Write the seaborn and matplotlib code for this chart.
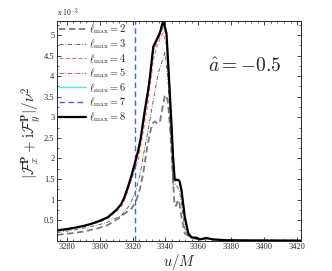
import numpy as np
import pandas as pd
import matplotlib
matplotlib.use('Agg')
import matplotlib.pyplot as plt
from matplotlib.ticker import MultipleLocator
import seaborn as sns

# valores (unidades de 1e-3)
u_main = [3274.3, 3280, 3285, 3290, 3295, 3300, 3305, 3310, 3313, 3315, 3317, 3319.5, 3321.5,
          3323.5, 3325, 3327.5, 3329.5, 3330.6, 3332.6, 3334.6, 3336.6, 3338.6, 3340.6, 3341.5,
          3342.6, 3343.6, 3344.6, 3345.6, 3347.6, 3348.6, 3349.7, 3351.7, 3353.8, 3355.8, 3358.8,
          3360.8, 3364.8, 3368.8, 3377, 3390, 3422]
f_l8 = [0.25, 0.28, 0.315, 0.355, 0.41, 0.48, 0.57, 0.74, 0.88, 1.05, 1.28, 1.6, 1.9, 2.2, 2.5,
        3.18, 3.67, 4.0, 4.72, 4.88, 5.05, 5.35, 5.05, 4.4, 3.6, 2.86, 2.04, 1.48, 1.48, 1.44,
        1.23, 0.58, 0.18, 0.08, 0.07, 0.03, 0.065, 0.03, 0.01, 0.005, 0.0]
f_l6 = [0.25, 0.28, 0.315, 0.355, 0.41, 0.48, 0.57, 0.74, 0.88, 1.05, 1.28, 1.6, 1.9, 2.2, 2.5,
        3.18, 3.67, 3.98, 4.66, 4.84, 5.02, 5.3, 5.02, 4.4, 3.6, 2.86, 2.04, 1.48, 1.48, 1.44,
        1.23, 0.58, 0.18, 0.08, 0.07, 0.03, 0.065, 0.03, 0.01, 0.005, 0.0]
f_l5 = [0.245, 0.275, 0.31, 0.35, 0.4, 0.47, 0.56, 0.72, 0.86, 1.02, 1.24, 1.55, 1.83, 2.1, 2.4,
        3.05, 3.55, 3.9, 4.55, 4.8, 4.98, 5.2, 4.95, 4.3, 3.55, 2.8, 2.0, 1.46, 1.46, 1.42,
        1.22, 0.57, 0.18, 0.08, 0.07, 0.03, 0.062, 0.03, 0.01, 0.005, 0.0]
f_l4 = [0.24, 0.27, 0.3, 0.34, 0.39, 0.45, 0.54, 0.7, 0.82, 0.98, 1.18, 1.5, 1.75, 1.96, 2.3,
        2.9, 3.4, 3.75, 4.4, 4.7, 4.9, 5.05, 4.75, 4.1, 3.4, 2.65, 1.9, 1.45, 1.46, 1.42,
        1.2, 0.55, 0.17, 0.08, 0.07, 0.03, 0.06, 0.03, 0.01, 0.005, 0.0]

u_l3 = [3274.3, 3285, 3299, 3305, 3313.4, 3318, 3321.5, 3324.5, 3327.5, 3329.5, 3332.6, 3335.6,
        3338.7, 3339.7, 3340.5, 3341.7, 3342.7, 3343.7, 3344.7, 3345.7, 3347, 3348.5, 3349.7,
        3351.7, 3353.8, 3356, 3360, 3365, 3370, 3380, 3422]
f_l3 = [0.2, 0.26, 0.38, 0.45, 0.62, 0.85, 1.15, 1.6, 2.28, 2.69, 3.42, 4.07, 4.45, 4.58, 4.3,
        3.8, 3.0, 2.0, 1.35, 1.38, 1.32, 1.2, 0.9, 0.3, 0.12, 0.07, 0.03, 0.05, 0.02, 0.005, 0.0]

u_l2 = [3274.3, 3285, 3290, 3299, 3305, 3311.4, 3316, 3319.4, 3322, 3324.5, 3326.5, 3328.6,
        3330.5, 3332, 3333.6, 3335, 3336.6, 3338, 3339.7, 3340.7, 3341.6, 3342.7, 3343.7,
        3344.7, 3345.5, 3346.5, 3347.6, 3348.5, 3349.7, 3351.7, 3353.8, 3356, 3360, 3365,
        3370, 3380, 3422]
f_l2 = [0.14, 0.19, 0.22, 0.3, 0.38, 0.54, 0.68, 0.78, 0.95, 1.25, 1.64, 2.2, 2.6, 2.85, 2.9,
        2.85, 2.88, 3.2, 3.54, 3.5, 3.34, 2.77, 2.2, 1.4, 0.85, 0.85, 0.99, 0.9, 0.58, 0.18,
        0.12, 0.07, 0.03, 0.05, 0.02, 0.005, 0.0]

u_l7 = [3321.6, 3321.6]
f_l7 = [0.0, 5.35]

etiquetas = [r'$\ell_{\rm max}=%d$' % k for k in range(2, 9)]

sns.set_style('ticks')
plt.rcParams['font.family'] = ['Liberation Serif', 'DejaVu Serif']
plt.rcParams['mathtext.fontset'] = 'cm'
plt.rcParams['xtick.direction'] = 'in'
plt.rcParams['ytick.direction'] = 'in'

fig = plt.figure(figsize=(3.32, 2.71), dpi=100)
ax = fig.add_axes([0.1726, 0.112, 0.734, 0.812])

series = [
    (u_l2, f_l2, '#7a7a7a', (0, (3.5, 2)), 1.3),
    (u_l3, f_l3, '#505050', (0, (5, 2, 1, 2)), 0.6),
    (u_main, f_l4, '#ff6060', (0, (4, 2.5)), 0.7),
    (u_main, f_l5, '#e83030', (0, (5, 2, 1, 2)), 0.6),
    (u_main, f_l6, '#60e0e0', '-', 1.0),
    (u_l7, f_l7, '#4a5cff', (0, (4, 2.5)), 1.0),
    (u_main, f_l8, 'black', '-', 1.6),
]
for (uu, ff, col, ls, lw), lab in zip(series, etiquetas):
    sns.lineplot(x=uu, y=ff, ax=ax, color=col, linestyle=ls, linewidth=lw,
                 label=lab, sort=False, estimator=None)

ax.set_xlim(3274.3, 3422.3)
ax.set_ylim(0, 5.35)
ax.xaxis.set_major_locator(MultipleLocator(20))
ax.xaxis.set_minor_locator(MultipleLocator(4))
ax.yaxis.set_major_locator(MultipleLocator(0.5))
ax.yaxis.set_minor_locator(MultipleLocator(0.25))
ax.set_yticks(np.arange(0.5, 5.01, 0.5))
ax.set_yticklabels(['0.5', '1', '1.5', '2', '2.5', '3', '3.5', '4', '4.5', '5'])
ax.tick_params(which='both', top=True, right=True, labelsize=6, pad=2)
ax.tick_params(axis='x', pad=1.5)
ax.tick_params(which='major', length=3, width=0.6)
ax.tick_params(which='minor', length=1.5, width=0.5)
for s in ax.spines.values():
    s.set_linewidth(0.7)

ax.set_xlabel(r'$u/M$', fontsize=10.5)
ax.xaxis.set_label_coords(0.5, -0.05)
ax.set_ylabel(r'$|\mathcal{F}^{\mathbf{P}}_x + \mathrm{i}\mathcal{F}^{\mathbf{P}}_y|/\nu^2$',
              fontsize=11)
ax.yaxis.set_label_coords(-0.06, 0.49)
ax.text(0.0, 1.005, r'x 10$^{-3}$', transform=ax.transAxes, fontsize=5.5, va='bottom', ha='left')
ax.text(0.62, 0.79, r'$\hat{a}=-0.5$', transform=ax.transAxes, fontsize=14, ha='left', va='center')

leg = ax.legend(loc='upper left', frameon=False, fontsize=7.5, handlelength=2.6,
                handletextpad=0.2, labelspacing=0.08, borderaxespad=0.1, borderpad=0.1)

plt.savefig('out.png', dpi=100)
